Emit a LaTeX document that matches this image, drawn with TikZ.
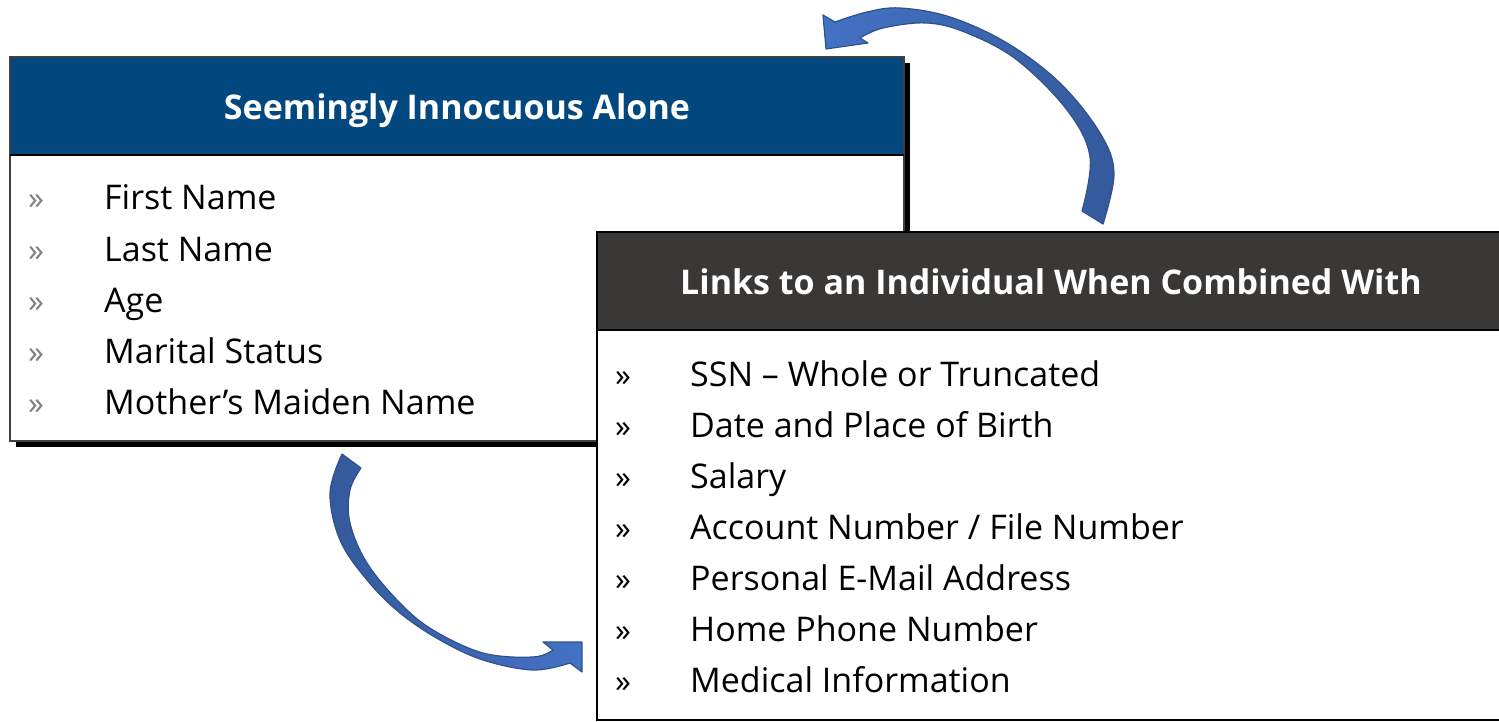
\documentclass[tikz,border=0pt]{standalone}
\usepackage{fontspec}
\setmainfont{Open Sans}
\definecolor{headblue}{HTML}{03477F}
\definecolor{headgray}{HTML}{3A3836}
\definecolor{bulletgray}{HTML}{808080}
\definecolor{arrowlight}{HTML}{4472C4}
\definecolor{arrowdark}{HTML}{345A9C}
\definecolor{arrowline}{HTML}{2F528F}
\begin{document}
\begin{tikzpicture}[x=1pt,y=-1pt,
  itemtext/.style={anchor=base west, inner sep=0pt, font=\fontsize{34}{40}\selectfont},
  bulletmark/.style={anchor=base west, inner sep=0pt, font=\fontsize{32}{36}\selectfont},
  headtext/.style={anchor=base, inner sep=0pt, text=white, font=\fontsize{34}{40}\selectfont\bfseries},
  blockarrow/.style={draw=arrowline, line width=1.2pt, line join=round}
]
\useasboundingbox (0,0) rectangle (1499,722);

% ---- left panel: shadow, body, header ----
\fill[black] (16,63) rectangle (910,447);
\draw[fill=white, draw=black!75, line width=1.5pt] (10,57) rectangle (904,441);
\fill[headblue] (10,57) rectangle (904,155);
\draw[black!75, line width=1.5pt] (10,57) rectangle (904,441);
\draw[black, line width=2pt] (10,155) -- (904,155);
\node[headtext] (lhead) at (457,120) {Seemingly Innocuous Alone};

\foreach \y/\t [count=\i] in {210/First Name, 261/Last Name, 312/Age, 363/Marital Status, 414/Mother’s Maiden Name}{
  \node[bulletmark, text=bulletgray] (lb\i) at (28,\y) {»};
  \node[itemtext] (li\i) at (104,\y) {\t};
}

% ---- right panel ----
\draw[fill=white, draw=black, line width=2.5pt] (597,232) rectangle (1510,720);
\fill[headgray] (597,232) rectangle (1510,330);
\draw[black, line width=2.5pt] (597,232) rectangle (1510,720);
\draw[black, line width=2.5pt] (597,330) -- (1510,330);
\node[headtext] (rhead) at (1051,294) {Links to an Individual When Combined With};

\foreach \y/\t [count=\i] in {386/{SSN – Whole or Truncated}, 437/{Date and Place of Birth}, 488/{Salary}, 539/{Account Number / File Number}, 590/{Personal E-Mail Address}, 641/{Home Phone Number}, 692/{Medical Information}}{
  \node[bulletmark] (rb\i) at (615,\y) {»};
  \node[itemtext] (ri\i) at (690,\y) {\t};
}

% ---- curved block arrows (lighter towards the head) ----
\draw[blockarrow, left color=arrowlight, right color=arrowdark]
  plot[smooth, tension=0.6] coordinates {(1103,224) (1114,173) (1100,133) (1060,83) (1007,43) (950,17) (900,8) (867,12) (835,22)}
  -- (823,15) -- (826,49) -- (868,43) -- (860,38)
  -- plot[smooth, tension=0.6] coordinates {(860,38) (883,28) (927,23) (967,33) (1017,60) (1067,110) (1090,157) (1082,211)}
  -- cycle;

\draw[blockarrow, left color=arrowdark, right color=arrowlight]
  plot[smooth, tension=0.6] coordinates {(342,454) (330,493) (340,540) (367,580) (400,613) (440,640) (483,660) (533,670) (570,663)}
  -- (582,672) -- (582,642) -- (543,642) -- (553,650)
  -- plot[smooth, tension=0.6] coordinates {(553,650) (533,657) (483,653) (433,630) (400,603) (367,563) (350,523) (350,490) (361,468)}
  -- cycle;
\end{tikzpicture}
\end{document}
